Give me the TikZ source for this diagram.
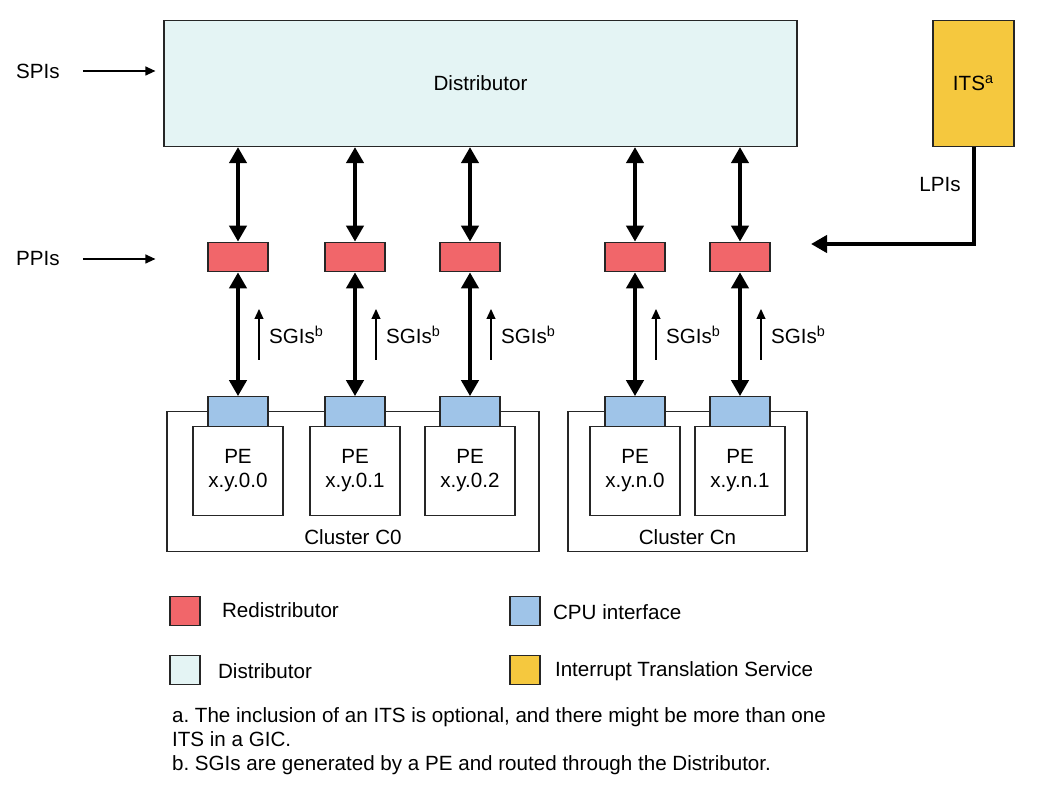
\documentclass[tikz,border=0pt]{standalone}
\usepackage{fontspec}
\setmainfont{Liberation Sans}
\usetikzlibrary{arrows.meta}
\frenchspacing
\definecolor{distfill}{RGB}{228,244,244}
\definecolor{redfill}{RGB}{241,102,106}
\definecolor{cpufill}{RGB}{159,196,232}
\definecolor{itsfill}{RGB}{245,200,62}
\tikzset{
 box/.style={draw=black!85, line width=0.6pt, inner sep=0pt},
 redist/.style={box, fill=redfill, minimum width=30pt, minimum height=14.75pt},
 cpuif/.style={box, fill=cpufill, minimum width=30pt, minimum height=15pt},
 pe/.style={box, fill=white, minimum width=45pt, minimum height=44.4pt, align=center},
 cluster/.style={box, fill=white, minimum height=70pt},
 key/.style={box, minimum width=15pt, minimum height=14.5pt},
 bus/.style={line width=2pt, {Triangle[length=8pt,width=8.5pt]}-{Triangle[length=8pt,width=8.5pt]}},
 lpiarr/.style={line width=2pt, -{Triangle[length=8pt,width=8.5pt]}},
 thinarr/.style={line width=0.6pt, -{Triangle[length=5pt,width=4.5pt]}},
}

\begin{document}
\begin{tikzpicture}[x=0.5pt,y=-0.5pt, every node/.style={font=\fontsize{10.3}{12}\selectfont}]
\useasboundingbox (0,0) rectangle (1057,797);

\node[box, fill=distfill, minimum width=316.5pt, minimum height=63pt] (dist) at (480.5,83.5) {Distributor};
\node[box, fill=itsfill, minimum width=40.5pt, minimum height=63pt] (its) at (973.5,83.5) {ITS\textsuperscript{a}};

\node (spi) at (38,71) {SPIs};
\node (ppi) at (38,259) {PPIs};
\draw[thinarr, shorten <=8pt, shorten >=4pt] (spi.east) -- (dist.west |- spi.east);
\draw[thinarr, shorten <=8pt, shorten >=4pt] (ppi.east) -- (dist.west |- ppi.east);

\node[cluster, minimum width=186pt] (clu0) at (353,481.75) {};
\node[cluster, minimum width=119.5pt] (clun) at (687.5,481.75) {};
\node (clu0lab) at (353,537) {Cluster C0};
\node (clunlab) at (687.5,537) {Cluster Cn};

\foreach \x/\n/\lab in {238/0/x.y.0.0, 355/1/x.y.0.1, 470/2/x.y.0.2, 635/3/x.y.n.0, 740/4/x.y.n.1}{
 \node[redist] (rd\n) at (\x,257) {};
 \node[cpuif] (cpu\n) at (\x,411.75) {};
 \node[pe] (pe\n) at (\x,471) {PE\\\lab};
 \draw[bus] (dist.south -| rd\n) -- (rd\n.north);
 \draw[bus] (rd\n.south) -- (cpu\n.north);
 \node[anchor=west] (sgi\n) at (\x+24,335) {SGIs\textsuperscript{b}};
 \draw[thinarr] (\x+21,360) -- (\x+21,309);
}

\node (lpi) at (940,185) {LPIs};
\coordinate (lpitip) at (811,244);
\draw[lpiarr] (its.south) |- (lpitip);

\node[key, fill=redfill] (k1) at (185,611) {};
\node[anchor=west] (k1lab) at (215,610) {Redistributor};
\node[key, fill=distfill] (k2) at (185,670) {};
\node[anchor=west] (k2lab) at (211,671) {Distributor};
\node[key, fill=cpufill] (k3) at (525,611) {};
\node[anchor=west] (k3lab) at (546,612) {CPU interface};
\node[key, fill=itsfill] (k4) at (525,670) {};
\node[anchor=west] (k4lab) at (548,671) {Interrupt Translation Service};

\node[anchor=west, align=left] (notes) at (165,741) {a. The inclusion of an ITS is optional, and there might be more than one\\ITS in a GIC.\\b. SGIs are generated by a PE and routed through the Distributor.};
\end{tikzpicture}
\end{document}
